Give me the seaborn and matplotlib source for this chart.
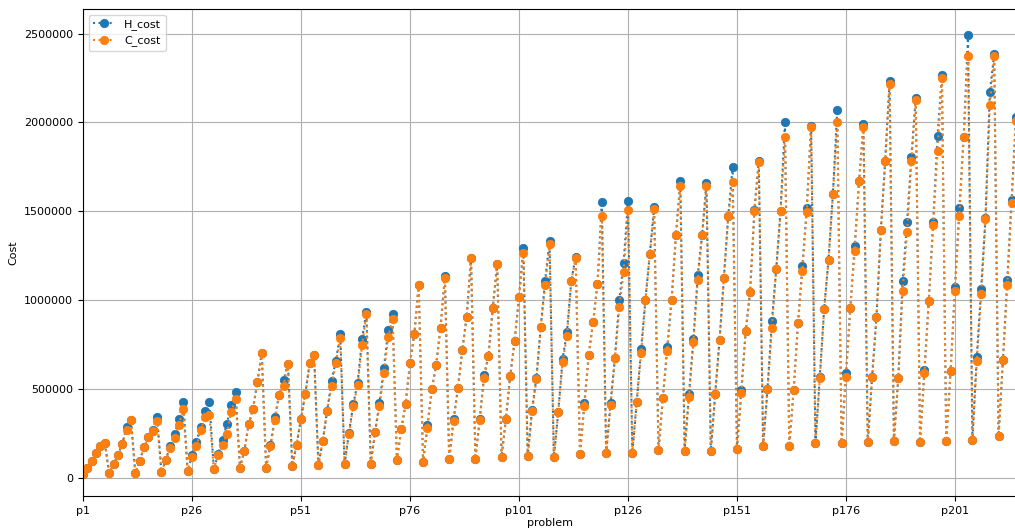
import numpy as np
import pandas as pd
import matplotlib
matplotlib.use("Agg")
import matplotlib.pyplot as plt
import seaborn as sns

# Costs per problem (p1 .. p215), in thousands
h_cost_k = [
    23, 55, 92, 141, 179, 197, 26, 75, 126, 192, 284, 325,
    26, 96, 171, 228, 271, 344, 30, 102, 177, 244, 333, 425,
    38, 126, 203, 286, 376, 425, 49, 132, 214, 305, 410, 485,
    56, 152, 301, 389, 540, 703, 56, 184, 339, 468, 549, 641,
    68, 186, 333, 474, 647, 692, 71, 209, 378, 544, 658, 809,
    77, 254, 414, 536, 781, 931, 79, 258, 423, 615, 829, 924,
    100, 273, 416, 647, 807, 1087, 88, 295, 498, 634, 845, 1136,
    103, 329, 506, 718, 907, 1238, 107, 333, 576, 688, 957, 1206,
    115, 331, 574, 771, 1016, 1292, 120, 384, 562, 850, 1110, 1330,
    115, 369, 668, 820, 1108, 1243, 132, 423, 692, 877, 1091, 1554,
    137, 421, 672, 1001, 1211, 1559, 141, 425, 722, 1001, 1258, 1523,
    154, 450, 734, 1001, 1365, 1670, 152, 474, 779, 1140, 1366, 1659,
    150, 472, 775, 1127, 1475, 1749, 164, 493, 826, 1044, 1507, 1785,
    179, 498, 880, 1174, 1503, 2003, 177, 495, 871, 1194, 1516, 1983,
    198, 566, 952, 1228, 1597, 2069, 198, 587, 957, 1305, 1668, 1994,
    199, 568, 907, 1396, 1785, 2233, 207, 564, 1106, 1437, 1804, 2139,
    203, 609, 997, 1437, 1922, 2269, 207, 600, 1072, 1516, 1920, 2490,
    213, 681, 1061, 1462, 2173, 2383, 235, 660, 1115, 1561, 2031,
]
c_cost_k = [
    23, 55, 92, 141, 179, 194, 26, 75, 126, 192, 271, 325,
    26, 96, 171, 228, 265, 318, 30, 102, 166, 222, 299, 387,
    38, 115, 177, 267, 342, 352, 49, 126, 182, 245, 372, 442,
    56, 152, 301, 389, 540, 703, 56, 177, 323, 468, 519, 638,
    68, 186, 333, 474, 647, 692, 71, 209, 378, 519, 647, 788,
    77, 246, 406, 521, 747, 922, 79, 258, 406, 591, 790, 895,
    100, 273, 416, 647, 807, 1087, 88, 282, 498, 634, 845, 1123,
    103, 320, 506, 718, 907, 1238, 107, 325, 561, 688, 957, 1206,
    115, 331, 574, 771, 1016, 1263, 120, 376, 555, 850, 1083, 1317,
    115, 369, 653, 798, 1108, 1236, 132, 403, 692, 877, 1091, 1473,
    137, 410, 672, 959, 1157, 1510, 141, 425, 700, 1001, 1258, 1512,
    154, 450, 713, 1001, 1365, 1644, 152, 455, 766, 1114, 1366, 1644,
    150, 472, 775, 1127, 1475, 1665, 164, 478, 824, 1044, 1503, 1776,
    179, 498, 845, 1174, 1503, 1921, 177, 495, 871, 1166, 1494, 1973,
    198, 559, 952, 1228, 1597, 2001, 198, 568, 957, 1275, 1668, 1975,
    199, 566, 907, 1396, 1785, 2218, 207, 564, 1053, 1381, 1785, 2127,
    203, 591, 997, 1424, 1840, 2253, 207, 600, 1053, 1476, 1917, 2376,
    213, 656, 1033, 1456, 2101, 2374, 235, 660, 1085, 1548, 2006,
]

problems = [f"p{i}" for i in range(1, len(h_cost_k) + 1)]
tick_labels = ["p1", "p26", "p51", "p76", "p101", "p126", "p151", "p176", "p201"]

df = pd.DataFrame({
    "problem": problems,
    "H_cost": np.array(h_cost_k) * 1000,
    "C_cost": np.array(c_cost_k) * 1000,
})
df["pos"] = np.arange(len(df))

plt.rcParams["font.family"] = ["DejaVu Sans"]
plt.rcParams["font.size"] = 8

fig = plt.figure(figsize=(10.15, 5.31), dpi=100)
ax = fig.add_axes([83 / 1015, 35 / 531, (1016 - 83) / 1015, (496 - 9) / 531])

colors = {"H_cost": "#1f77b4", "C_cost": "#ff7f0e"}
for col in ["H_cost", "C_cost"]:
    sns.lineplot(data=df, x="pos", y=col, ax=ax, label=col, sort=False,
                 color=colors[col], linestyle=":", linewidth=1.5,
                 marker="o", markersize=6, markeredgewidth=0.6,
                 markeredgecolor=colors[col])

ax.set_xlim(0, len(df) - 1)
ax.set_ylim(-103000, 2639000)
tick_pos = [problems.index(t) for t in tick_labels]
ax.set_xticks(tick_pos)
ax.set_xticklabels(tick_labels)
ax.set_yticks([0, 500000, 1000000, 1500000, 2000000, 2500000])
ax.ticklabel_format(style="plain", axis="y", useOffset=False)
ax.tick_params(labelsize=8)
ax.grid(True, color="#b0b0b0", linewidth=0.8)
ax.set_axisbelow(True)
ax.set_xlabel("problem", fontsize=8, labelpad=2)
ax.set_ylabel("Cost", fontsize=8)
ax.legend(loc="upper left", fontsize=8)

fig.savefig("out.png", dpi=100)
